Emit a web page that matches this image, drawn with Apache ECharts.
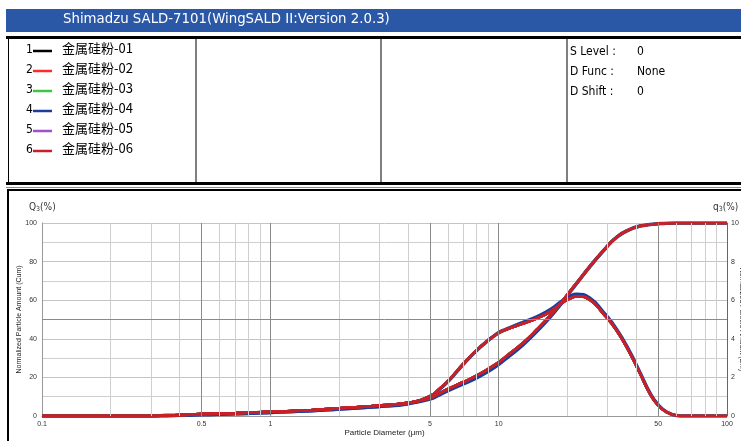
<!DOCTYPE html>
<html>
<head>
<meta charset="utf-8">
<script src="https://cdn.jsdelivr.net/npm/echarts@6/dist/echarts.min.js"></script>
<style>
html,body{margin:0;padding:0;background:#fff;}
#c{width:741px;height:441px;}
</style>
</head>
<body>
<div id="c"></div>
<script>
// ---- data ----
const sampleNames = ['金属硅粉-01','金属硅粉-02','金属硅粉-03','金属硅粉-04','金属硅粉-05','金属硅粉-06'];
const sampleColors = ['#000000','#ff2a2a','#3cc83c','#1e3c9c','#a050c8','#c8202a'];
const xTickLabels = [0.1, 0.5, 1, 5, 10, 50, 100];
const xGridMinor = [0.2,0.3,0.4,0.6,0.7,0.8,0.9,2,3,4,6,7,8,9,20,30,40,60,70,80,90];
const xGridMajor = [0.5,1,5,10,50];
const diameters = [0.1,0.3,0.35,0.4,0.5,0.7,1,1.5,2,3,4,5,5.5,6.1,7,8.3,9.8,10.8,12.8,14.7,16.8,18.9,20.5,22,25,28.7,32.8,37.6,41.6,46,50,54.4,60,65,70,100];

// cumulative Q3 (%)
const cum01 = [0,0,0.2,0.5,1.0,1.5,2.2,3.0,4.0,5.4,6.8,9.3,11.8,14.4,17.6,21.9,27.1,31.0,38.0,44.8,52.0,59.2,64.5,69.0,77.3,85.6,92.6,96.7,98.4,99.2,99.6,99.9,100,100,100,100];
const cum02 = [0,0,0.2,0.5,1.0,1.5,2.2,3.0,4.0,5.4,6.8,9.3,11.8,14.4,17.6,21.9,27.1,31.0,38.0,44.8,52.0,59.2,64.5,69.0,77.3,85.6,92.6,96.7,98.4,99.2,99.6,99.9,100,100,100,100];
const cum03 = [0,0,0.2,0.5,1.0,1.5,2.2,3.0,4.0,5.4,6.8,9.3,11.8,14.4,17.6,21.9,27.1,31.0,38.0,44.8,52.0,59.2,64.5,69.0,77.3,85.6,92.6,96.7,98.4,99.2,99.6,99.9,100,100,100,100];
const cum04 = [0,0,0.2,0.4,0.8,1.2,1.9,2.7,3.7,5.0,6.4,8.8,11.0,13.6,16.6,20.8,26.0,29.9,37.0,43.9,51.2,58.6,64.2,68.8,77.2,85.5,92.6,96.7,98.4,99.2,99.6,99.9,100,100,100,100];
const cum05 = [0,0,0.2,0.5,1.0,1.5,2.2,3.0,4.0,5.4,6.8,9.3,11.8,14.4,17.6,21.9,27.1,31.0,38.0,44.8,52.0,59.2,64.5,69.0,77.3,85.6,92.6,96.7,98.4,99.2,99.6,99.9,100,100,100,100];
const cum06 = [0,0,0.2,0.5,1.0,1.5,2.2,3.0,4.0,5.4,6.8,9.3,11.8,14.4,17.6,21.9,27.1,31.0,38.0,44.8,52.0,59.2,64.5,69.0,77.3,85.6,92.6,96.7,98.4,99.2,99.6,99.9,100,100,100,100];

// differential q3 (%)
const diff01 = [0,0,0.02,0.05,0.10,0.15,0.22,0.30,0.40,0.54,0.68,1.03,1.40,1.90,2.70,3.58,4.25,4.48,4.79,5.06,5.40,5.85,6.08,6.20,6.03,5.30,4.44,3.25,2.20,1.15,0.55,0.20,0.03,0,0,0];
const diff02 = [0,0,0.02,0.05,0.10,0.15,0.22,0.30,0.40,0.54,0.68,1.03,1.40,1.90,2.70,3.58,4.25,4.48,4.79,5.06,5.40,5.85,6.08,6.20,6.03,5.30,4.44,3.25,2.20,1.15,0.55,0.20,0.03,0,0,0];
const diff03 = [0,0,0.02,0.05,0.10,0.15,0.22,0.30,0.40,0.54,0.68,1.03,1.40,1.90,2.70,3.58,4.25,4.48,4.79,5.06,5.40,5.85,6.08,6.20,6.03,5.30,4.44,3.25,2.20,1.15,0.55,0.20,0.03,0,0,0];
const diff04 = [0,0,0.02,0.04,0.08,0.12,0.19,0.27,0.37,0.50,0.64,1.00,1.38,1.88,2.68,3.56,4.25,4.50,4.85,5.14,5.50,5.95,6.20,6.30,6.12,5.38,4.50,3.30,2.24,1.18,0.57,0.21,0.03,0,0,0];
const diff05 = [0,0,0.02,0.05,0.10,0.15,0.22,0.30,0.40,0.54,0.68,1.03,1.40,1.90,2.70,3.58,4.25,4.48,4.79,5.06,5.40,5.85,6.08,6.20,6.03,5.30,4.44,3.25,2.20,1.15,0.55,0.20,0.03,0,0,0];
const diff06 = [0,0,0.02,0.05,0.10,0.15,0.22,0.30,0.40,0.54,0.68,1.03,1.40,1.90,2.70,3.58,4.25,4.48,4.79,5.06,5.40,5.85,6.08,6.20,6.03,5.30,4.44,3.25,2.20,1.15,0.55,0.20,0.03,0,0,0];

const cumAll = [cum01,cum02,cum03,cum04,cum05,cum06];
const diffAll = [diff01,diff02,diff03,diff04,diff05,diff06];
const infoLabels = ['S Level :','D Func :','D Shift :'];
const infoValues = ['0','None','0'];

// ---- build chart ----
const FN = '"DejaVu Sans Condensed","DejaVu Sans",sans-serif';
const chart = echarts.init(document.getElementById('c'), null, {renderer:'canvas'});
const pairs = arr => diameters.map((d,k)=>[d, arr[k]]);
const drawOrder = [3,4,2,0,1,5];
const series = [];
drawOrder.forEach(i=>{
  const w = i===3 ? 3.6 : 2.6;
  series.push({name:sampleNames[i], type:'line', xAxisIndex:0, yAxisIndex:0, data:pairs(cumAll[i]),
    showSymbol:false, smooth:0.5, lineStyle:{color:sampleColors[i], width:w}, z:3, silent:true});
  series.push({name:sampleNames[i], type:'line', xAxisIndex:0, yAxisIndex:1, data:pairs(diffAll[i]),
    showSymbol:false, smooth:0.5, lineStyle:{color:sampleColors[i], width:w}, z:3, silent:true});
});
// grid lines through the axis scale
series.unshift({type:'line', data:[], xAxisIndex:0, yAxisIndex:0, silent:true,
  markLine:{silent:true, symbol:'none', label:{show:false}, animation:false,
    data:[].concat(
      xGridMinor.map(v=>({xAxis:v, lineStyle:{color:'#cfcfcf', width:1, type:'solid'}})),
      xGridMajor.map(v=>({xAxis:v, lineStyle:{color:'#8a8a8a', width:1, type:'solid'}})),
      [{yAxis:50, lineStyle:{color:'#8a8a8a', width:1, type:'solid'}}]
    )}, z:1});

const legendGraphics = [];
sampleNames.forEach((n,i)=>{
  const y = 51 + i*20;
  legendGraphics.push({type:'text', left:26, top:y-7, style:{text:String(i+1), font:'12px '+FN, fill:'#000'}});
  legendGraphics.push({type:'line', shape:{x1:33,y1:y,x2:52,y2:y}, style:{stroke:sampleColors[i], lineWidth:2.5}});
  legendGraphics.push({type:'text', left:62, top:y-9, style:{text:n, font:'13px "Noto Sans CJK SC",sans-serif', fill:'#000'}});
});
infoLabels.forEach((t,i)=>{
  const y = 46 + i*20;
  legendGraphics.push({type:'text', left:570, top:y, style:{text:t, font:'12px '+FN, fill:'#000'}});
  legendGraphics.push({type:'text', left:637, top:y, style:{text:infoValues[i], font:'12px '+FN, fill:'#000'}});
});

const option = {
  animation:false,
  backgroundColor:'#ffffff',
  grid:{left:42, right:14, top:223, height:193, containLabel:false, outerBoundsMode:'none'},
  xAxis:[{type:'log', logBase:10, min:0.1, max:100,
    name:'Particle Diameter (μm)', nameLocation:'middle', nameGap:13, nameMoveOverlap:false,
    nameTextStyle:{fontSize:8, color:'#222', fontFamily:'Liberation Sans'},
    axisLine:{show:true, lineStyle:{color:'#999', width:1}},
    axisTick:{show:false}, splitLine:{show:false},
    axisLabel:{customValues:xTickLabels, fontSize:7, color:'#333', margin:5, fontFamily:'Liberation Sans',
      formatter:v=>String(+(+v).toPrecision(3))}}],
  yAxis:[{type:'value', min:0, max:100, interval:20, position:'left',
      name:'Normalized Particle Amount (Cum)', nameLocation:'middle', nameGap:19, nameRotate:90, nameMoveOverlap:false,
      nameTextStyle:{fontSize:7, color:'#222', fontFamily:'Liberation Sans'},
      axisLine:{show:true, lineStyle:{color:'#999'}}, axisTick:{show:false},
      axisLabel:{fontSize:7, color:'#333', margin:5, fontFamily:'Liberation Sans'},
      splitLine:{show:true, lineStyle:{color:'#c4c4c4', width:1}},
      minorTick:{show:false, splitNumber:2},
      minorSplitLine:{show:true, lineStyle:{color:'#cfcfcf', width:1}}},
    {type:'value', min:0, max:10, interval:2, position:'right',
      name:'Normalized Particle Amount (Diff)', nameLocation:'middle', nameGap:11, nameRotate:-90, nameMoveOverlap:false,
      nameTextStyle:{fontSize:7, color:'#222', fontFamily:'Liberation Sans'},
      axisLine:{show:true, lineStyle:{color:'#666'}}, axisTick:{show:false},
      axisLabel:{fontSize:7, color:'#333', margin:4, fontFamily:'Liberation Sans'},
      splitLine:{show:false}}],
  series:series,
  graphic:[
    {type:'rect', shape:{x:6,y:9,width:735,height:23}, style:{fill:'#2a58a6'}},
    {type:'text', left:63, top:12, style:{text:'Shimadzu SALD-7101(WingSALD II:Version 2.0.3)', font:'14.8px '+FN, fill:'#ffffff'}},
    {type:'rect', shape:{x:6,y:36,width:735,height:3}, style:{fill:'#000'}},
    {type:'rect', shape:{x:8,y:38,width:1,height:146}, style:{fill:'#000'}},
    {type:'rect', shape:{x:6,y:182,width:735,height:3}, style:{fill:'#000'}},
    {type:'rect', shape:{x:6,y:187,width:735,height:1}, style:{fill:'#888'}},
    {type:'rect', shape:{x:195.5,y:38,width:1,height:145}, style:{fill:'#000'}},
    {type:'rect', shape:{x:380.5,y:38,width:1,height:145}, style:{fill:'#000'}},
    {type:'rect', shape:{x:566.5,y:38,width:1,height:145}, style:{fill:'#000'}},
    {type:'rect', shape:{x:7,y:189,width:734,height:2}, style:{fill:'#000'}},
    {type:'rect', shape:{x:7,y:189,width:2,height:252}, style:{fill:'#000'}},
    {type:'text', left:29, top:202, style:{rich:{a:{fontSize:10, fontFamily:'DejaVu Sans Condensed', fill:'#333'}, b:{fontSize:7, fontFamily:'DejaVu Sans Condensed', fill:'#333', padding:[4,0,0,0]}}, text:'{a|Q}{b|3}{a|(%)}'}},
    {type:'text', left:713, top:202, style:{rich:{a:{fontSize:10, fontFamily:'DejaVu Sans Condensed', fill:'#333'}, b:{fontSize:7, fontFamily:'DejaVu Sans Condensed', fill:'#333', padding:[4,0,0,0]}}, text:'{a|q}{b|3}{a|(%)}'}}
  ].concat(legendGraphics)
};
chart.setOption(option);
</script>
</body>
</html>
